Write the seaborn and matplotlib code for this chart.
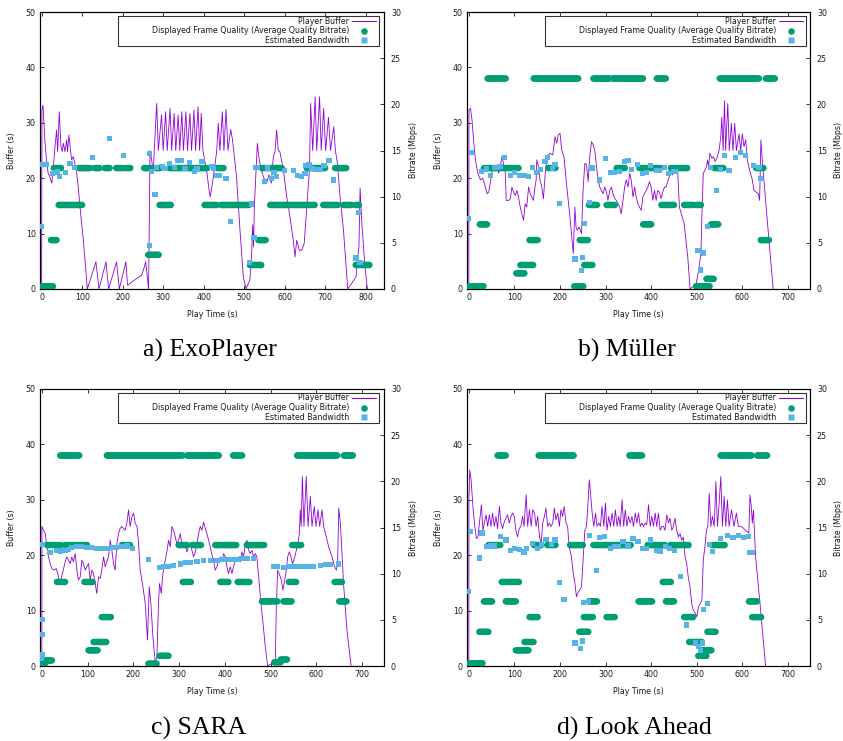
import numpy as np
import pandas as pd
import matplotlib
matplotlib.use("Agg")
import matplotlib.pyplot as plt
from matplotlib.lines import Line2D
from matplotlib.patches import Rectangle
import seaborn as sns

# ---------------- DATA ----------------
CAPTIONS = ["a) ExoPlayer", "b) Müller", "c) SARA", "d) Look Ahead"]
LEGEND_LABELS = ["Player Buffer", "Displayed Frame Quality (Average Quality Bitrate)", "Estimated Bandwidth"]
X_LABEL = "Play Time (s)"
Y_LABEL = "Buffer (s)"
Y2_LABEL = "Bitrate (Mbps)"
XTICKS_A = [0, 100, 200, 300, 400, 500, 600, 700, 800]
XTICKS_BCD = [0, 100, 200, 300, 400, 500, 600, 700]
YTICKS = [0, 10, 20, 30, 40, 50]
Y2TICKS = [0, 5, 10, 15, 20, 25, 30]

# ---- a) ExoPlayer ----
A_BUF_T = [0, 0.8, 3.3, 8, 12, 16, 20, 25, 29, 33, 37, 39.5, 43.6, 47.7, 51, 53.5, 57.6, 61.7, 64, 67.5,
           71.6, 74, 78, 82, 86.4, 90.5, 94.7, 103, 112.8, 134, 141.6, 158.8, 165.4, 185, 191.8, 208, 212,
           218, 234.6, 247, 253.5, 256.8, 264, 267.5, 271.6, 275.7, 278, 284, 288, 296, 300, 306, 310, 317,
           321, 327, 331, 337, 341, 346, 350, 356, 360, 366, 370, 376, 380, 386, 390, 394, 398, 403, 408,
           413, 416, 419, 424, 432, 436, 440, 446, 450, 455, 460, 466.6, 471, 481, 489.6, 497.8, 504.4,
           514, 518, 521, 523, 525, 529, 532.4, 536, 540, 547, 555, 561, 567, 571.9, 576, 580, 584, 588,
           596.6, 604.8, 613, 621, 625.4, 629.5, 636, 642, 648, 654, 661, 664, 669, 675, 679, 686, 690,
           696, 701, 708, 713, 721, 725, 730, 736.5, 745, 755.5, 765, 776, 780, 783, 786, 790, 798, 804]
A_BUF_V = [0, 32.3, 33.2, 26.9, 23.3, 20.9, 20.3, 19.1, 22, 25.7, 28.7, 24.8, 32, 25.7, 24.8, 26.3, 24.8,
           26.9, 24.8, 27.8, 24.8, 23.3, 23.9, 22.7, 20.9, 18.4, 14.8, 8.8, 0, 4.9, 0, 4.9, 0, 4.9, 0, 4.9,
           0.7, 1, 1.9, 2.5, 4, 4.9, 0, 25, 23.3, 21, 25, 33.5, 25, 31.4, 25, 32, 25, 32.6, 25, 31.7, 25,
           31.4, 25, 32, 25, 32, 25, 31.7, 25, 32.3, 25, 32.9, 25, 31.7, 25, 23, 21, 18, 16.6, 18, 20.3,
           24.8, 29.9, 25, 32, 25, 32.4, 25, 28.8, 27, 20.3, 10.6, 2.2, 0, 1.6, 5.8, 11.6, 7.6, 14.9, 21.2,
           26.3, 23.9, 22.1, 20.3, 19.1, 20.6, 19.1, 23.9, 24.8, 28.7, 25, 24.8, 21.5, 16.7, 13, 8.8, 5.8,
           8.8, 7.0, 7.0, 8.2, 14.3, 21.5, 33.5, 25, 34.7, 25, 34.7, 25, 32.6, 25, 31, 25, 29.3, 25, 22.7,
           16.7, 10.6, 0, 1, 2.2, 5.8, 7.3, 18.2, 12.2, 4, 0]
A_Q_START = [0, 23, 30, 42, 92, 131, 156, 184, 205, 253, 263, 282, 291, 315, 402, 433, 442, 514, 535, 543,
             564, 654, 695, 724, 745, 775, 775]
A_Q_END = [28, 37, 48, 101, 120, 144, 169, 199, 219, 269, 290, 293, 320, 410, 432, 450, 513, 543, 554, 593,
           675, 700, 732, 753, 765, 783, 809]
A_Q_LEVEL = [0.3, 5.3, 13.1, 9.1, 13.1, 13.1, 13.1, 13.1, 13.1, 13.1, 3.7, 13.1, 9.1, 13.1, 9.1, 13.1, 9.1,
             2.6, 5.3, 13.1, 9.1, 13.1, 9.1, 13.1, 9.1, 9.1, 2.6]
A_BW_T = [0, 2.5, 8, 12, 27, 33, 38.7, 45, 59, 70, 82, 126, 167, 203, 266.7, 267, 272, 280, 284, 298, 305,
          315, 327, 336, 346, 354, 365, 377, 383.5, 396, 419, 424, 432, 439, 455, 467, 514, 518.5, 524,
          527.6, 532.5, 550, 558, 568, 573.7, 579.4, 599, 621, 631, 642, 650, 652.7, 660, 667.5, 677, 687,
          697, 709.5, 720, 776, 782, 786]
A_BW_V = [6.8, 13.45, 13.45, 13.45, 12.5, 12.6, 12.7, 12.15, 12.6, 13.6, 13.2, 14.2, 16.3, 14.5, 4.7, 14.7,
          12.7, 10.2, 13.2, 13.3, 13.05, 13.6, 13.2, 13.9, 13.9, 13.05, 13.7, 12.7, 13.0, 13.8, 13.3, 13.05,
          12.3, 12.3, 12.0, 7.3, 2.9, 9.2, 5.55, 13.2, 13.15, 11.6, 13.1, 12.0, 12.6, 12.15, 12.8, 12.8,
          12.3, 12.15, 12.5, 13.4, 13.45, 13.05, 12.95, 12.95, 13.4, 13.9, 11.8, 3.35, 8.3, 2.9]

# ---- b) Müller ----
B_BUF_T = [0, 0.3, 3.6, 7, 11, 14.5, 19.6, 25.4, 30.5, 34, 40, 43.6, 47, 51, 54.5, 58, 63, 65.4, 69, 72.7,
           76, 80, 82, 87, 91, 94.5, 98, 101.8, 105.4, 109, 112.7, 116, 120, 123.6, 127, 131, 134.5, 138,
           141.7, 145, 147.6, 149, 152.6, 156, 160, 163.5, 167, 171, 174.5, 178, 184, 189, 192.6, 196, 200,
           203.5, 208.6, 214, 221.7, 229, 232.6, 235, 237.7, 242, 247, 250.8, 254.4, 258, 261.7, 265, 269,
           272.6, 276, 280, 283.5, 287, 290.8, 294.4, 298, 301.7, 305, 309, 312.6, 316, 320, 323.5, 327,
           330.7, 334, 338, 341.6, 345, 349, 352.6, 356, 360, 363.5, 367, 370.7, 374, 378, 381.6, 385, 389,
           392.6, 396, 399.8, 403.4, 407, 410.7, 414, 418, 421.6, 425, 429, 432.5, 436, 439.8, 443, 447,
           450.7, 454, 458, 461.6, 472, 480, 485, 490.6, 498, 505, 508.8, 511, 514, 518, 521, 523.4, 525.6,
           528.5, 533, 536.5, 540, 545, 548.8, 552.4, 554.6, 557.5, 560.5, 563, 567.7, 571, 575.7, 579, 583,
           586.6, 592.4, 596, 599.7, 603.3, 607, 610.6, 614, 621.5, 625, 630, 634.6, 637.5, 640.4, 643.3,
           650.6, 658, 667.3]
B_BUF_V = [0, 32.3, 32.6, 30.5, 26.3, 23.3, 20.9, 19.7, 20, 19.1, 17.2, 17.5, 19.1, 21.5, 22.1, 21.8, 22.4,
           20.9, 22.1, 23.9, 22.7, 20.9, 16, 16, 16.3, 18.4, 17.5, 16.9, 17.8, 16.6, 14.8, 13.6, 12.4, 15.4,
           14.8, 18.4, 17.2, 16.6, 16, 18.4, 19.7, 23.3, 22.1, 19.7, 18.4, 16.3, 20.3, 23.3, 24.2, 24.5,
           24.2, 27.5, 26.3, 27.8, 28.1, 25.1, 23.9, 19.1, 13, 6.4, 14.8, 11.2, 10.6, 11.2, 10, 18.4, 22.7,
           22.4, 19.4, 23.9, 26.6, 26, 25.1, 22.1, 19.7, 18.4, 17.8, 17.2, 18.4, 17.5, 16, 17.8, 18.4, 17.2,
           16.3, 16, 15.4, 14.8, 13.6, 16, 18.4, 19.7, 18.4, 20.9, 19.7, 16.6, 18.4, 16.6, 15.4, 14.8, 14.2,
           16.6, 17.2, 17.8, 18.4, 19.4, 18.4, 16, 17.8, 16, 17.8, 17.5, 16.3, 17.5, 18.4, 18.4, 19.4, 20.3,
           20.9, 20.6, 22.1, 20.9, 21.2, 14.8, 11.8, 5.8, 0, 0.4, 0.7, 4, 6.4, 13.3, 20.9, 21.5, 22.1, 23.3,
           22.1, 24.5, 23.6, 23.9, 23, 23.9, 25.1, 27.5, 31, 25, 34, 25, 33.5, 25, 29.9, 25, 29.9, 25, 28,
           25, 28, 25.7, 26.9, 23.3, 22, 19.7, 17.8, 17.5, 17.2, 16, 26.9, 23.3, 16, 8.8, 0]
B_Q_START = [0, 24, 33, 41, 63, 104, 113, 133, 142, 174, 184, 231, 243, 253, 263, 273, 302, 316, 324, 336,
             374, 382, 402, 412, 422, 443, 472, 499, 498, 521, 531, 538, 550, 630, 640, 651]
B_Q_END = [32, 40, 110, 59, 81, 122, 141, 151, 181, 191, 241, 251, 262, 272, 281, 310, 321, 332, 342, 382,
           401, 400, 420, 432, 451, 480, 492, 509, 528, 538, 547, 558, 637, 647, 658, 672]
B_Q_LEVEL = [0.3, 7.0, 13.1, 22.8, 22.8, 1.7, 2.6, 5.3, 22.8, 13.1, 22.8, 0.3, 5.3, 2.6, 9.1, 22.8, 9.1,
             22.8, 13.1, 22.8, 13.1, 7.0, 13.1, 22.8, 9.1, 13.1, 9.1, 9.1, 0.3, 1.1, 7.0, 13.1, 22.8, 13.1,
             5.3, 22.8]
B_BW_T = [0, 5.8, 27, 38.5, 47, 56, 63, 69, 78.5, 91, 100, 111, 121, 131, 140, 149, 158, 167, 172, 184, 189,
          198.5, 232.6, 247, 249, 253.7, 265, 270, 287, 299.5, 310, 320, 330.7, 341.6, 349, 356, 370, 381.6,
          389, 397.6, 410.7, 418, 429, 438, 448.5, 454, 501.6, 506.6, 508.8, 514, 523.4, 529, 543, 552.4,
          560, 570.6, 585, 596, 607, 625, 636, 639.7]
B_BW_V = [7.65, 14.8, 12.7, 13, 12.3, 13.2, 13.2, 13.3, 14.2, 12.3, 12.6, 12.3, 12.3, 12.15, 13.2, 12.6,
          12.9, 13.8, 14.2, 13.05, 13.5, 9.3, 3.25, 2.0, 3.4, 7.1, 9.4, 13.1, 11.8, 14.1, 12.6, 12.6, 12.75,
          13.8, 13.9, 12.9, 13.45, 12.55, 12.65, 13.4, 12.8, 12.8, 13.2, 12.55, 12.7, 12.7, 4.15, 4.15, 2.05,
          3.9, 6.75, 13.2, 10.7, 12.95, 14.5, 12.8, 14.2, 14.75, 14.5, 13.4, 13.2, 12.0]

# ---- c) SARA ----
C_BUF_T = [0, 0.3, 3.6, 7.3, 11, 14.6, 18, 22, 27, 31.4, 35, 38.6, 42.3, 46, 51, 54.7, 58.3, 62, 65.6, 69,
           73, 76.6, 80, 84, 87.5, 91, 94.8, 98.4, 102, 105.7, 109.4, 113, 116.7, 120, 124, 127.6, 131, 135,
           138.5, 142, 145.8, 149.5, 153, 156.8, 160.4, 164, 167.7, 171, 175, 178.6, 182, 186, 189.6, 193,
           197, 200.5, 204, 208, 211.5, 215, 221, 226, 231, 234.8, 238.4, 242.8, 248, 251.6, 255, 257.4, 261,
           264.7, 269.8, 273.4, 277, 280.7, 284.4, 288, 291.7, 295, 299, 302.6, 306, 310, 313.5, 317, 320.8,
           324.5, 328, 331.8, 335.4, 339, 342.7, 346.4, 350, 353.6, 357.3, 361, 364.6, 368.2, 372, 375.5,
           379, 382.8, 386.5, 390, 393.8, 397.4, 401, 404.7, 408, 412, 415.6, 419, 423, 426.6, 430, 433.9,
           437.5, 441, 444.8, 448.4, 452, 455.7, 459.4, 463, 466.7, 470, 474, 479, 483.5, 488.5, 493.6, 503,
           510.4, 512.6, 515.5, 520, 523.6, 527, 531, 534.5, 537.4, 541, 544.7, 548, 552, 555.6, 559, 563,
           565, 567, 569.5, 573, 578, 582, 587, 590.6, 595.7, 599.4, 603.7, 607.4, 612.5, 616, 622, 627,
           630.7, 634.4, 640, 644, 646.8, 649, 652.6, 660, 667, 676]
C_BUF_V = [0, 25.2, 24.5, 24, 21.5, 19.7, 18.5, 17.6, 17.3, 17.6, 16.7, 14.9, 15.8, 17, 18.8, 19.7, 19.1,
           18.5, 19.7, 18.8, 20.3, 17.3, 15.5, 16.1, 19.1, 18.5, 17.3, 17.9, 18.5, 15.5, 17.3, 16.7, 14.9,
           13.1, 16.1, 15.8, 17.3, 19.7, 17.9, 18.8, 19.7, 22.7, 20.9, 18.5, 17.3, 22.1, 23.9, 24.8, 25.2,
           24.8, 24.5, 25.8, 28.2, 25.2, 27, 27.6, 25.8, 25.2, 22.1, 17.3, 14.3, 11.3, 4.7, 14.3, 11.3, 5.3,
           0.5, 1.7, 11.3, 14.9, 13.1, 16.7, 19.1, 20.6, 22.7, 21.5, 25.2, 24.5, 23.3, 22.1, 22.7, 23.9,
           22.1, 21.5, 22.1, 20.6, 21.5, 22.1, 20.9, 19.7, 20.6, 22.1, 23.9, 25.2, 24.5, 26, 24.8, 23.9,
           22.7, 21.5, 20, 19.1, 17.3, 17.9, 19.1, 19.7, 18.8, 20.3, 19.7, 17.9, 16.7, 17.9, 16.7, 17.9,
           19.1, 18.8, 19.7, 18.8, 20.6, 19.7, 21.8, 22.7, 20.9, 20.3, 20.9, 19.7, 20.3, 19.7, 16.1, 11.3,
           7.7, 3.5, 0, 0.5, 1.1, 10.7, 17.3, 16.4, 15.5, 13.7, 15.5, 17.3, 19.7, 20.6, 19.7, 18.5, 19.4,
           20.6, 21.8, 23.9, 28.2, 25.2, 34.2, 25.2, 34.2, 25.2, 30.6, 25.2, 28.8, 25.2, 28.2, 25.2, 28.2,
           25.2, 23.3, 21.5, 20.6, 19.7, 17.9, 17.3, 19.1, 28.5, 25.8, 14.3, 6.5, 0]
C_Q_START = [0, 8, 11, 33, 40, 51, 62, 73, 93, 102, 113, 131, 142, 175, 184, 233, 242, 257, 268, 299, 308,
             317, 328, 339, 379, 390, 399, 418, 428, 448, 481, 507, 508, 522, 528, 540, 547, 558, 640, 650, 660]
C_Q_END = [8, 22, 41, 51, 60, 70, 82, 100, 111, 122, 141, 151, 182, 193, 240, 251, 266, 277, 308, 317, 326,
           337, 348, 388, 399, 408, 426, 439, 455, 486, 503, 516, 522, 536, 547, 556, 567, 647, 656, 667, 680]
C_Q_LEVEL = [0.3, 0.6, 13.1, 9.1, 22.8, 13.1, 22.8, 13.1, 9.1, 1.7, 2.6, 5.3, 22.8, 13.1, 22.8, 0.25, 22.8,
             1.1, 22.8, 13.1, 9.1, 22.8, 13.1, 22.8, 13.1, 9.1, 13.1, 22.8, 9.1, 13.1, 7.0, 7.0, 0.4, 0.7,
             7.0, 9.1, 13.1, 22.8, 9.1, 7.0, 22.8]
C_BW_T = [0, 0.3, 0.6, 0.9, 2, 18, 31.4, 41.6, 51, 58.3, 65.6, 76.6, 87.5, 98.4, 109.4, 120.3, 131, 142, 153,
          164, 175, 186, 199, 233, 257.4, 266, 277, 288, 302.6, 313.5, 324.5, 339, 353.6, 368.2, 382.8,
          393.8, 404.7, 415.6, 426.6, 437.5, 448.4, 463, 506.8, 514, 528.6, 539.6, 550.5, 561.5, 572.4,
          583.3, 594, 609, 620, 630.7, 649]
C_BW_V = [0.8, 1.2, 3.45, 5.05, 13.2, 12.3, 12.55, 12.45, 12.55, 12.6, 12.8, 12.9, 12.9, 12.85, 12.8, 12.75,
          12.75, 12.75, 12.8, 12.8, 12.9, 13.0, 12.75, 11.5, 10.7, 10.75, 10.8, 10.9, 11.05, 11.2, 11.2,
          11.3, 11.4, 11.4, 11.4, 11.5, 11.5, 11.55, 11.55, 11.6, 11.6, 11.6, 10.8, 10.75, 10.7, 10.75,
          10.75, 10.8, 10.8, 10.8, 10.8, 10.9, 10.95, 11.0, 11.05]

# ---- d) Look Ahead ----
D_BUF_T = [0, 0.3, 2, 5, 9.5, 13, 16.7, 20, 24, 27.6, 31, 34, 37.8, 41.4, 45, 48.7, 52, 56, 59.6, 63, 67,
           70.5, 74, 77.8, 81.4, 85, 88.7, 92.3, 96, 99.6, 103, 107, 110.5, 114, 117.8, 121, 125.8, 129,
           133, 136.7, 140, 144, 147.6, 151, 155, 158.5, 162, 165.7, 169, 173, 176.6, 180, 184, 187.5, 191,
           195, 198.5, 202, 205.7, 209, 213, 216.6, 220, 225, 229, 232.6, 236, 240, 243.5, 247, 250.8,
           254.4, 258, 261.7, 264, 266.8, 270.4, 274, 277.7, 281, 285, 288.6, 292, 296, 299.5, 303, 306.8,
           310.4, 314, 317.7, 321.3, 325, 328.6, 332, 336, 339.5, 343, 346.7, 350, 354, 357.6, 361, 365,
           368.5, 372, 375.8, 379.4, 383, 386.7, 390, 394, 397.6, 401, 405, 408.5, 412, 415.8, 419.4, 423,
           426.7, 430, 434, 437.6, 441, 445, 448.5, 452, 455.8, 459.4, 463, 466.7, 470, 474, 477.6, 481,
           485, 488.6, 492, 496.5, 500, 503.7, 507.4, 511, 514, 517.6, 521, 524, 527, 530.6, 534, 538,
           541.6, 545, 548.8, 552.4, 556, 559.7, 563.3, 567, 570.6, 576, 581.5, 586.6, 591, 596, 603,
           610.6, 614, 616.4, 619.3, 621.5, 624, 628.8, 639.7, 650.6]
D_BUF_V = [0, 30.3, 35.4, 33.6, 28.2, 25.2, 23, 23.3, 26.4, 29.1, 24.5, 25.8, 27.3, 25.2, 27.3, 25.2, 27.6,
           25.2, 27, 24.8, 28.8, 25.8, 24.8, 26, 26.7, 27.3, 25.8, 27, 27.6, 27, 24.5, 23.3, 24.8, 25.2,
           27, 25.2, 30.9, 25.2, 28.2, 25.2, 28.2, 27.6, 25.2, 27, 23.3, 22.1, 25.8, 27, 28.5, 25.2, 25.8,
           25.2, 25.8, 28.5, 26.4, 27.6, 25.2, 28.2, 27, 28.8, 25.8, 25.2, 21.5, 19.7, 16.7, 14.9, 12.5,
           13.4, 13.7, 14.3, 19.7, 24.5, 25.2, 30, 33.6, 31.2, 27.6, 25.2, 27.6, 25.2, 25.8, 25.2, 28.8,
           25.2, 29.4, 24.5, 27, 25.2, 27.6, 25.2, 28.2, 25.2, 27, 25.2, 30, 25.2, 28.2, 25.2, 27, 25.8,
           27, 25.2, 27.6, 25.8, 27.6, 25.2, 25.8, 25.2, 25.8, 25.5, 29.1, 25.2, 27, 25.2, 27.6, 25.2, 27.6,
           24.5, 25.2, 25.2, 24.5, 27.3, 25.8, 26.7, 24.5, 25.2, 26.7, 24.5, 23.3, 23.9, 22.7, 23.3, 19.7,
           18.5, 16.1, 14.3, 11.3, 10.1, 9.5, 8.9, 10.7, 11.3, 11.9, 19.1, 21.5, 24.5, 25.2, 31.2, 25.2, 27,
           25.2, 33.3, 25.2, 29.4, 34.2, 25.2, 30.6, 25.2, 30, 25.2, 28.2, 25.2, 27.6, 25.2, 25.2, 24.8,
           24.2, 24, 30.9, 28.8, 25.8, 28.2, 19.7, 10.1, 0]
D_Q_START = [0, 23, 33, 43, 63, 72, 81, 92, 103, 122, 133, 143, 153, 172, 184, 222, 242, 252, 263, 273, 302,
             352, 372, 392, 425, 432, 442, 472, 483, 503, 512, 523, 533, 552, 614, 621, 632]
D_Q_END = [31, 43, 52, 70, 82, 91, 103, 111, 131, 142, 151, 160, 182, 191, 230, 251, 262, 272, 281, 355,
           321, 380, 402, 430, 443, 451, 482, 492, 511, 521, 532, 542, 562, 621, 633, 641, 654]
D_Q_LEVEL = [0.3, 3.7, 7.0, 13.1, 22.8, 9.1, 7.0, 9.1, 1.7, 2.6, 5.3, 13.1, 22.8, 13.1, 22.8, 13.1, 3.7,
             5.3, 7.0, 13.1, 5.3, 22.8, 7.0, 13.1, 9.1, 7.0, 13.1, 5.3, 2.6, 1.1, 1.7, 3.7, 13.1, 22.8, 7.0,
             5.3, 22.8]
D_BW_T = [0, 3.6, 24, 29, 40, 48.7, 56, 69, 81.4, 91, 100, 111, 121, 127, 140, 150.5, 160, 169, 182, 189,
          198.5, 208.6, 232.6, 245, 249, 252, 261.7, 265, 280, 287, 298, 310, 320, 329, 338, 349, 360, 371,
          380, 390, 398, 410.7, 419, 431, 440, 450.7, 463.8, 478, 496.5, 503.7, 508.8, 512.5, 514.7, 523.4,
          527, 534, 552.4, 567, 579, 591, 603, 613, 616.4, 621.5]
D_BW_V = [8.1, 14.55, 11.7, 14.4, 12.9, 13, 13, 14, 13.65, 12.55, 12.75, 12.6, 12.35, 12.75, 13.3, 12.75,
          13.2, 13.7, 13.2, 13.65, 9.0, 7.2, 2.5, 1.9, 2.7, 6.85, 7.0, 14.1, 10.3, 13.9, 14, 12.75, 12.9,
          12.9, 13.5, 13, 13.8, 13.45, 12.75, 12.7, 13.65, 12.5, 12.45, 12.9, 12.75, 12.55, 9.7, 4.45, 2.5,
          2.1, 1.7, 2.5, 6.1, 6.8, 13.2, 12.4, 13.8, 14.1, 13.9, 14.1, 13.9, 14.0, 12.3, 12.3]

# ---------------- STYLE ----------------
sns.set_style("ticks")
plt.rcParams['font.family'] = ['DejaVu Sans']
FS = 5.7
PURPLE = "#9400d3"
GREEN = "#009e73"
BLUE = "#56b4e9"
TXT = "#1a1a1a"

W, H = 843, 741
fig = plt.figure(figsize=(W / 100, H / 100), dpi=100)
fig.patch.set_facecolor("white")

# panel pixel boxes: left, top, right, bottom
BOXES = [(40, 12, 384, 289), (467, 12, 810, 289), (40, 389, 384, 666), (467, 389, 810, 666)]
XLIMS = [(-4, 845), (-4, 748), (-4, 748), (-4, 748)]
CAP_POS = [(210, 350), (627, 350), (199, 728), (634, 728)]

panels = [
    (A_BUF_T, A_BUF_V, A_Q_START, A_Q_END, A_Q_LEVEL, A_BW_T, A_BW_V, XTICKS_A),
    (B_BUF_T, B_BUF_V, B_Q_START, B_Q_END, B_Q_LEVEL, B_BW_T, B_BW_V, XTICKS_BCD),
    (C_BUF_T, C_BUF_V, C_Q_START, C_Q_END, C_Q_LEVEL, C_BW_T, C_BW_V, XTICKS_BCD),
    (D_BUF_T, D_BUF_V, D_Q_START, D_Q_END, D_Q_LEVEL, D_BW_T, D_BW_V, XTICKS_BCD),
]

SEG = 2.0  # segment spacing in seconds for run-length encoded quality

for i, (bt, bv, qs, qe, ql, wt, wv, xt) in enumerate(panels):
    l, t, r, b = BOXES[i]
    aw = r - l
    ah = b - t
    ax = fig.add_axes([l / W, 1 - b / H, aw / W, ah / H])
    ax2 = ax.twinx()

    buf = pd.DataFrame({"t": bt, "v": bv})
    sns.lineplot(data=buf, x="t", y="v", ax=ax, sort=False, estimator=None,
                 color=PURPLE, linewidth=0.6)

    qt, qv = [], []
    for s0, e0, lv in zip(qs, qe, ql):
        tt = np.arange(s0, e0 + 0.01, SEG)
        qt.extend(tt)
        qv.extend([lv] * len(tt))
    qdf = pd.DataFrame({"t": qt, "q": qv})
    sns.scatterplot(data=qdf, x="t", y="q", ax=ax2, marker="o", s=21, color=GREEN,
                    linewidth=0, edgecolor="none", legend=False, zorder=3)

    wdf = pd.DataFrame({"t": wt, "w": wv})
    sns.scatterplot(data=wdf, x="t", y="w", ax=ax2, marker="s", s=14, color=BLUE,
                    linewidth=0, edgecolor="none", legend=False, zorder=4)

    ax.set_xlim(*XLIMS[i])
    ax.set_ylim(0, 50)
    ax2.set_ylim(0, 30)
    ax.set_xticks(xt)
    ax.set_yticks(YTICKS)
    ax2.set_yticks(Y2TICKS)

    ax.tick_params(axis="x", direction="in", length=3, width=0.6, top=True, bottom=True,
                   labelsize=FS, colors=TXT, pad=3)
    ax.tick_params(axis="y", direction="in", length=3, width=0.6, left=True, right=False,
                   labelsize=FS, colors=TXT, pad=3)
    ax2.tick_params(axis="y", direction="in", length=3, width=0.6, right=True, left=False,
                    labelsize=FS, colors=TXT, pad=5)
    for a_ in (ax, ax2):
        for sp in a_.spines.values():
            sp.set_linewidth(0.8)
            sp.set_color("black")
            sp.set_visible(True)

    ax.set_xlabel(X_LABEL, fontsize=FS, color=TXT)
    ax.set_ylabel(Y_LABEL, fontsize=FS, color=TXT)
    ax2.set_ylabel(Y2_LABEL, fontsize=FS, color=TXT)
    ax.xaxis.set_label_coords(0.5, -21 / ah)
    ax.yaxis.set_label_coords(-24 / aw, 0.5)
    right_off = 25 if i in (0, 2) else 24
    ax2.yaxis.set_label_coords(1 + right_off / aw, 0.5)

    # legend (gnuplot-like: text right-aligned, sample on the right)
    handles = [Line2D([], [], color=PURPLE, lw=0.75),
               Line2D([], [], color=GREEN, marker="o", ls="", ms=4.7, mec="none"),
               Line2D([], [], color=BLUE, marker="s", ls="", ms=3.7, mec="none")]
    gap_r = 5 if i in (0, 2) else 4
    leg = ax2.legend(handles, LEGEND_LABELS, loc="upper right", markerfirst=False, frameon=False,
                     bbox_to_anchor=(1 - (gap_r + 3) / aw, 1 - 4.5 / ah), borderaxespad=0, borderpad=0,
                     handlelength=3.0, handletextpad=0.4, labelspacing=0.1, fontsize=FS)
    for txt in leg.get_texts():
        txt.set_color(TXT)
    ax2.add_patch(Rectangle((1 - (gap_r + 261) / aw, 1 - 34 / ah), 261 / aw, 30 / ah,
                            transform=ax2.transAxes, fill=False, edgecolor="#333333",
                            linewidth=0.8, clip_on=False, zorder=10))

    cx, cy = CAP_POS[i]
    fig.text(cx / W, 1 - cy / H, CAPTIONS[i], family="Liberation Serif", fontsize=18.5,
             ha="center", va="center", color="black")

fig.savefig("out.png", dpi=100, facecolor="white")
